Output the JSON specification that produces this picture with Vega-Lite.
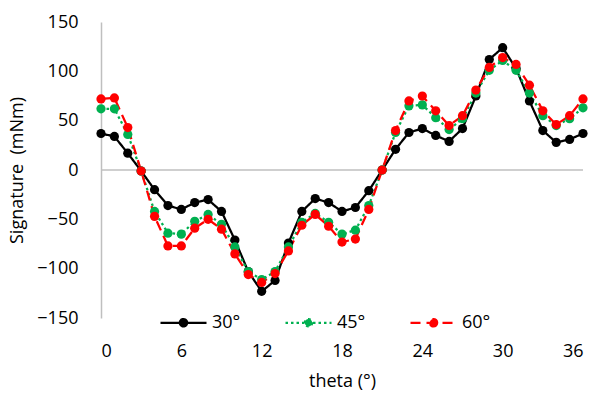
{
  "$schema": "https://vega.github.io/schema/vega-lite/v6.json",
  "autosize": "none",
  "width": 482,
  "height": 296,
  "padding": {"left": 101, "top": 22, "right": 12, "bottom": 76},
  "background": "white",
  "config": {
    "view": {"stroke": null},
    "font": "Open Sans"
  },
  "datasets": {
    "sig": [
      {"theta":0,"series":"30°","value":37},{"theta":1,"series":"30°","value":34},{"theta":2,"series":"30°","value":17},{"theta":3,"series":"30°","value":-1},{"theta":4,"series":"30°","value":-20},{"theta":5,"series":"30°","value":-36},{"theta":6,"series":"30°","value":-40},{"theta":7,"series":"30°","value":-33},{"theta":8,"series":"30°","value":-30},{"theta":9,"series":"30°","value":-42},{"theta":10,"series":"30°","value":-71},{"theta":11,"series":"30°","value":-103},{"theta":12,"series":"30°","value":-123},{"theta":13,"series":"30°","value":-112},{"theta":14,"series":"30°","value":-74},{"theta":15,"series":"30°","value":-42},{"theta":16,"series":"30°","value":-29},{"theta":17,"series":"30°","value":-33},{"theta":18,"series":"30°","value":-42},{"theta":19,"series":"30°","value":-38},{"theta":20,"series":"30°","value":-21},{"theta":21,"series":"30°","value":0},{"theta":22,"series":"30°","value":21},{"theta":23,"series":"30°","value":38},{"theta":24,"series":"30°","value":42},{"theta":25,"series":"30°","value":35},{"theta":26,"series":"30°","value":29},{"theta":27,"series":"30°","value":42},{"theta":28,"series":"30°","value":75},{"theta":29,"series":"30°","value":112},{"theta":30,"series":"30°","value":124},{"theta":31,"series":"30°","value":103},{"theta":32,"series":"30°","value":70},{"theta":33,"series":"30°","value":40},{"theta":34,"series":"30°","value":28},{"theta":35,"series":"30°","value":31},{"theta":36,"series":"30°","value":37},
      {"theta":0,"series":"45°","value":62},{"theta":1,"series":"45°","value":62},{"theta":2,"series":"45°","value":36},{"theta":3,"series":"45°","value":-1},{"theta":4,"series":"45°","value":-42},{"theta":5,"series":"45°","value":-64},{"theta":6,"series":"45°","value":-65},{"theta":7,"series":"45°","value":-52},{"theta":8,"series":"45°","value":-45},{"theta":9,"series":"45°","value":-55},{"theta":10,"series":"45°","value":-78},{"theta":11,"series":"45°","value":-103},{"theta":12,"series":"45°","value":-111},{"theta":13,"series":"45°","value":-103},{"theta":14,"series":"45°","value":-78},{"theta":15,"series":"45°","value":-53},{"theta":16,"series":"45°","value":-44},{"theta":17,"series":"45°","value":-53},{"theta":18,"series":"45°","value":-65},{"theta":19,"series":"45°","value":-61},{"theta":20,"series":"45°","value":-36},{"theta":21,"series":"45°","value":0},{"theta":22,"series":"45°","value":38},{"theta":23,"series":"45°","value":65},{"theta":24,"series":"45°","value":66},{"theta":25,"series":"45°","value":53},{"theta":26,"series":"45°","value":41},{"theta":27,"series":"45°","value":52},{"theta":28,"series":"45°","value":78},{"theta":29,"series":"45°","value":101},{"theta":30,"series":"45°","value":111},{"theta":31,"series":"45°","value":101},{"theta":32,"series":"45°","value":78},{"theta":33,"series":"45°","value":55},{"theta":34,"series":"45°","value":45},{"theta":35,"series":"45°","value":52},{"theta":36,"series":"45°","value":63},
      {"theta":0,"series":"60°","value":72},{"theta":1,"series":"60°","value":73},{"theta":2,"series":"60°","value":43},{"theta":3,"series":"60°","value":-1},{"theta":4,"series":"60°","value":-47},{"theta":5,"series":"60°","value":-77},{"theta":6,"series":"60°","value":-77},{"theta":7,"series":"60°","value":-59},{"theta":8,"series":"60°","value":-50},{"theta":9,"series":"60°","value":-60},{"theta":10,"series":"60°","value":-85},{"theta":11,"series":"60°","value":-106},{"theta":12,"series":"60°","value":-114},{"theta":13,"series":"60°","value":-105},{"theta":14,"series":"60°","value":-82},{"theta":15,"series":"60°","value":-56},{"theta":16,"series":"60°","value":-45},{"theta":17,"series":"60°","value":-57},{"theta":18,"series":"60°","value":-73},{"theta":19,"series":"60°","value":-70},{"theta":20,"series":"60°","value":-40},{"theta":21,"series":"60°","value":0},{"theta":22,"series":"60°","value":40},{"theta":23,"series":"60°","value":70},{"theta":24,"series":"60°","value":75},{"theta":25,"series":"60°","value":60},{"theta":26,"series":"60°","value":45},{"theta":27,"series":"60°","value":55},{"theta":28,"series":"60°","value":81},{"theta":29,"series":"60°","value":104},{"theta":30,"series":"60°","value":114},{"theta":31,"series":"60°","value":107},{"theta":32,"series":"60°","value":86},{"theta":33,"series":"60°","value":60},{"theta":34,"series":"60°","value":46},{"theta":35,"series":"60°","value":55},{"theta":36,"series":"60°","value":72}
    ],
    "zero": [{"y": 0}]
  },
  "layer": [
    {
      "data": {"name": "zero"},
      "mark": {"type": "rule", "color": "#bfbfbf", "strokeWidth": 1.5},
      "encoding": {
        "y": {"field": "y", "type": "quantitative", "scale": {"domain": [-150, 150]}}
      }
    },
    {
      "data": {"name": "sig"},
      "mark": {"type": "line", "strokeWidth": 2.25, "point": {"filled": true, "size": 85, "opacity": 1}},
      "encoding": {
        "x": {
          "field": "theta", "type": "quantitative",
          "scale": {"domain": [0, 36], "nice": false},
          "axis": {
            "values": [0, 6, 12, 18, 24, 30, 36],
            "title": "theta (°)",
            "domain": false, "ticks": false, "grid": false,
            "labelFontSize": 18, "labelColor": "#000000", "labelPadding": 24,
            "titleFontSize": 18, "titleFontWeight": "normal", "titleColor": "#000000", "titlePadding": 12
          }
        },
        "y": {
          "field": "value", "type": "quantitative",
          "scale": {"domain": [-150, 150], "nice": false},
          "axis": {
            "values": [-150, -100, -50, 0, 50, 100, 150],
            "title": "Signature\u00a0 (mNm)",
            "domain": true, "domainColor": "#bfbfbf", "domainWidth": 1.5,
            "ticks": false, "grid": false,
            "labelFontSize": 18, "labelColor": "#000000", "labelPadding": 23,
            "titleFontSize": 18, "titleFontWeight": "normal", "titleColor": "#000000", "titlePadding": 10
          }
        },
        "color": {
          "field": "series", "type": "nominal",
          "scale": {"domain": ["30°", "45°", "60°"], "range": ["#000000", "#00b050", "#ff0000"]},
          "legend": {
            "orient": "none", "legendX": 58, "legendY": 276, "direction": "horizontal",
            "title": null,
            "symbolType": "M-1,0H1M0.16,0A0.16,0.16,0,1,1,-0.16,0A0.16,0.16,0,1,1,0.16,0Z",
            "symbolSize": 2116, "symbolStrokeWidth": 2.25,
            "labelFontSize": 18, "labelColor": "#000000", "labelOffset": 4,
            "columnPadding": 40,
            "encode": {"symbols": {"update": {"fill": {"scale": "color", "field": "value"}, "fillOpacity": {"value": 1}}}}
          }
        },
        "strokeDash": {
          "field": "series", "type": "nominal",
          "scale": {"domain": ["30°", "45°", "60°"], "range": [[1, 0], [2.5, 3], [10, 6]]},
          "legend": {
            "orient": "none", "legendX": 58, "legendY": 276, "direction": "horizontal",
            "title": null,
            "symbolType": "M-1,0H1M0.16,0A0.16,0.16,0,1,1,-0.16,0A0.16,0.16,0,1,1,0.16,0Z",
            "symbolSize": 2116, "symbolStrokeWidth": 2.25,
            "labelFontSize": 18, "labelColor": "#000000", "labelOffset": 4,
            "columnPadding": 40,
            "encode": {"symbols": {"update": {"fill": {"scale": "color", "field": "value"}, "fillOpacity": {"value": 1}}}}
          }
        }
      }
    }
  ]
}
